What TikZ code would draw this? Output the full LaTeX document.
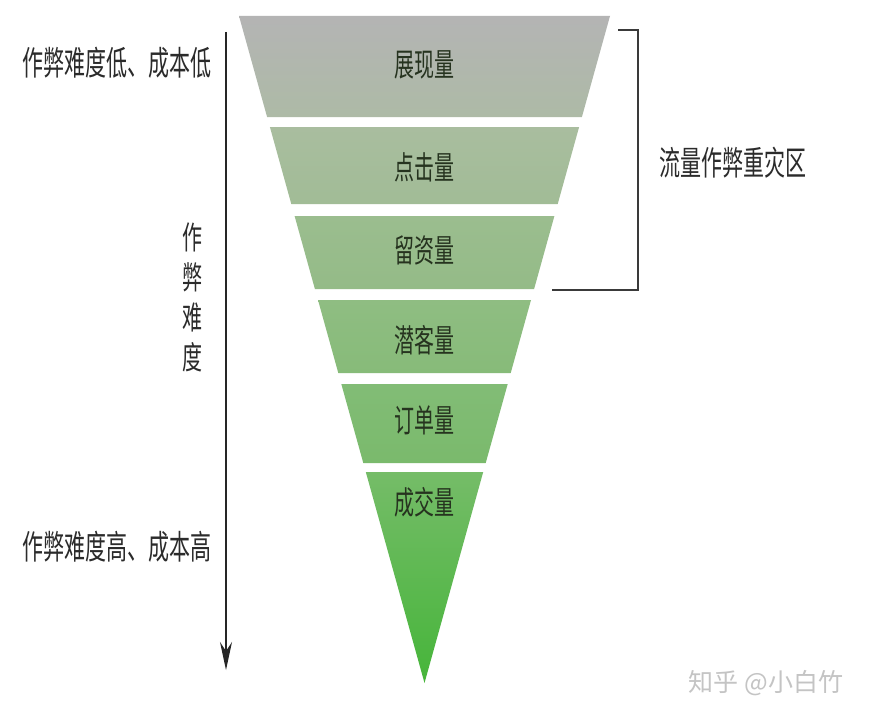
\documentclass[tikz,border=0pt]{standalone}
\usepackage{fontspec}
\setmainfont{Noto Sans CJK SC}
\usepackage{graphicx}
\usetikzlibrary{arrows.meta}
\definecolor{labelc}{HTML}{26331F}
\definecolor{sidec}{HTML}{2B2B2B}
\definecolor{brkc}{HTML}{3A3A3A}
\definecolor{wmc}{HTML}{C4C4C4}
\definecolor{ba}{HTML}{B4B4B4}\definecolor{bb}{HTML}{ADBAA6}
\definecolor{bc}{HTML}{A9BD9F}\definecolor{bd}{HTML}{A1BC96}
\definecolor{be}{HTML}{9BBD8F}\definecolor{bf}{HTML}{94BB87}
\definecolor{bg}{HTML}{8FBD82}\definecolor{bh}{HTML}{87BB79}
\definecolor{bi}{HTML}{82BC76}\definecolor{bj}{HTML}{7ABA6C}
\definecolor{bk}{HTML}{75BC68}\definecolor{bl}{HTML}{46B53A}
\newcommand{\tallt}[1]{\scalebox{1}[1.6]{#1}}
\begin{document}
\begin{tikzpicture}[x=1pt,y=-1pt,
  flabel/.style={font=\fontsize{20}{24}\selectfont, text=labelc, inner sep=0pt},
  side/.style={font=\fontsize{21}{25}\selectfont, text=sidec, inner sep=0pt},
  brk/.style={draw=brkc, line width=1.5pt},
  axisarrow/.style={draw=black!85, line width=1.2pt, -{Stealth[length=28pt,width=12pt]}},
  wm/.style={font=\fontsize{25}{28}\selectfont, text=wmc, inner sep=0pt}]
\useasboundingbox[fill=white] (0,0) rectangle (872,717);

% funnel bands
\path[top color=ba, bottom color=bb] (239,16) -- (610,16) -- (581.9,117) -- (267.1,117) -- cycle;
\path[top color=bc, bottom color=bd] (269.9,127) -- (579.1,127) -- (557.7,204) -- (291.3,204) -- cycle;
\path[top color=be, bottom color=bf] (294.6,216) -- (554.4,216) -- (534.1,289) -- (314.9,289) -- cycle;
\path[top color=bg, bottom color=bh] (318,300) -- (531,300) -- (510.7,373) -- (338.3,373) -- cycle;
\path[top color=bi, bottom color=bj] (341.3,384) -- (507.7,384) -- (485.7,463) -- (363.3,463) -- cycle;
\path[top color=bk, bottom color=bl] (365.8,472) -- (483.2,472) -- (424.5,683) -- cycle;

% funnel labels
\node[flabel] (l1) at (424,65) {\tallt{展现量}};
\node[flabel] (l2) at (424,167) {\tallt{点击量}};
\node[flabel] (l3) at (424,250) {\tallt{留资量}};
\node[flabel] (l4) at (424,340) {\tallt{潜客量}};
\node[flabel] (l5) at (424,420) {\tallt{订单量}};
\node[flabel] (l6) at (424,502) {\tallt{成交量}};

% bracket
\coordinate (bt) at (618,30);
\coordinate (bbot) at (552,290);
\draw[brk] (bt) -- ++(20,0) |- (bbot);
\node[side] (risk) at (733,163) {\tallt{流量作弊重灾区}};

% left axis
\coordinate (as) at (226,32);
\coordinate (ae) at (226,670);
\draw[axisarrow] (as) -- (ae);
\node[side] (low) at (117,63) {\tallt{作弊难度低、成本低}};
\node[side] (high) at (117,547) {\tallt{作弊难度高、成本高}};
\node[side, font=\fontsize{20}{40}\selectfont, align=center] (vert) at (192,297)
  {\tallt{作}\\\tallt{弊}\\\tallt{难}\\\tallt{度}};

% watermark
\node[wm] (mark) at (766,683) {知乎 @小白竹};
\end{tikzpicture}
\end{document}
